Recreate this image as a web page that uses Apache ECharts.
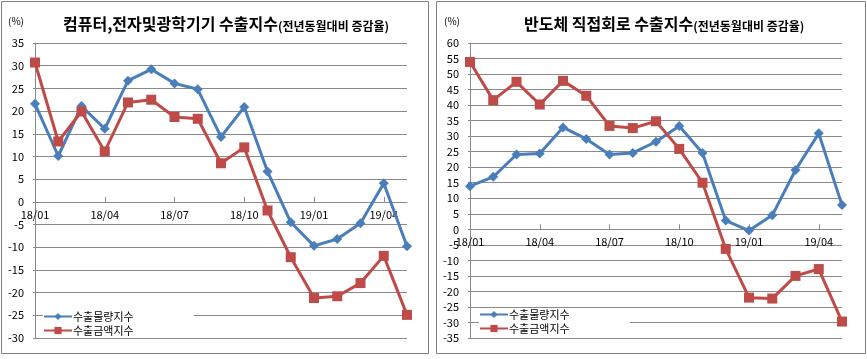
<!DOCTYPE html>
<html>
<head>
<meta charset="utf-8">
<script src="https://cdn.jsdelivr.net/npm/echarts@6/dist/echarts.min.js"></script>
<style>html,body{margin:0;padding:0;background:#fff;}#c{width:867px;height:359px;}</style>
</head>
<body>
<div id="c"></div>
<script>
const months = ['18/01','18/02','18/03','18/04','18/05','18/06','18/07','18/08','18/09','18/10','18/11','18/12','19/01','19/02','19/03','19/04','19/05'];
const seriesNames = ['수출물량지수','수출금액지수'];
const compVolume = [21.6,10.1,21.1,16.1,26.7,29.2,26.1,24.8,14.3,20.9,6.7,-4.5,-9.7,-8.2,-4.7,4.1,-9.8];
const compValue  = [30.7,13.3,19.9,11.1,21.9,22.5,18.7,18.3,8.5,12.0,-1.9,-12.2,-21.2,-20.8,-17.9,-11.9,-24.9];
const semiVolume = [13.9,16.9,24.1,24.4,32.8,29.1,24.1,24.6,28.2,33.3,24.6,2.8,-0.4,4.5,19.1,30.9,7.8];
const semiValue  = [53.9,41.6,47.5,40.2,47.8,43.0,33.3,32.6,34.8,25.9,15.0,-6.3,-22.0,-22.3,-15.0,-12.8,-29.7];
const compRange = [-30, 35];
const semiRange = [-35, 60];
const titleMain = ['컴퓨터,전자및광학기기 수출지수','반도체 직접회로 수출지수'];
const titleSub = '(전년동월대비 증감율)';
const unitLabel = '(%)';

const FONT = '"Noto Sans CJK KR", "Noto Sans", sans-serif';
const BLUE = '#4A7EBB', RED = '#BE4B48', GRID = '#8a8a8a';
const PLOT_H = 295;

function xAxis(gi, range){
  // place the category axis where the value axis crosses zero
  const off = -((0 - range[0]) / (range[1] - range[0])) * PLOT_H;
  return {
    type:'category', gridIndex:gi, data:months, boundaryGap:false,
    position:'bottom', offset:off,
    axisLine:{onZero:false, lineStyle:{color:GRID, width:1}},
    axisTick:{show:true, inside:true, interval:2, length:5, lineStyle:{color:GRID}},
    axisLabel:{interval:2, color:'#000', fontSize:11, fontFamily:FONT, margin:7},
    splitLine:{show:false}
  };
}
function yAxis(gi, range){
  return {
    type:'value', gridIndex:gi, min:range[0], max:range[1], interval:5,
    axisLine:{show:true, onZero:false, lineStyle:{color:GRID}},
    axisTick:{show:true, length:2, lineStyle:{color:GRID}},
    axisLabel:{color:'#000', fontSize:11, fontFamily:FONT, margin:11},
    splitLine:{lineStyle:{color:GRID, width:1}}
  };
}
function lineSeries(name, data, gi, color, symbol, size){
  return {
    name:name, type:'line', xAxisIndex:gi, yAxisIndex:gi, data:data,
    symbol:symbol, symbolSize:size, showSymbol:true,
    lineStyle:{color:color, width:3}, itemStyle:{color:color},
    emphasis:{disabled:true}
  };
}
function titleObj(left, main){
  return {
    left:left, top:11, padding:0,
    text:'{a|'+main+'}{b|'+titleSub+'}',
    textStyle:{rich:{
      a:{fontSize:16, fontWeight:'bold', color:'#000', fontFamily:FONT, verticalAlign:'bottom', lineHeight:21},
      b:{fontSize:12, color:'#000', fontFamily:FONT, verticalAlign:'bottom', lineHeight:19}
    }}
  };
}
function legendObj(left, top){
  return {
    left:left, top:top, orient:'vertical', itemWidth:28, itemHeight:9, itemGap:3,
    padding:[1,60,1,0], backgroundColor:'#fff',
    data:seriesNames,
    textStyle:{color:'#000', fontSize:11, fontFamily:FONT, padding:[0,0,0,-4]}
  };
}

const chart = echarts.init(document.getElementById('c'), null, {renderer:'canvas'});
chart.setOption({
  animation:false,
  backgroundColor:'#fff',
  title:[
    titleObj(63, titleMain[0]),
    titleObj(524, titleMain[1]),
    {left:8, top:16, padding:0, text:unitLabel, textStyle:{fontSize:10, fontWeight:'normal', color:'#000', fontFamily:FONT}},
    {left:444, top:16, padding:0, text:unitLabel, textStyle:{fontSize:10, fontWeight:'normal', color:'#000', fontFamily:FONT}}
  ],
  legend:[legendObj(43, 310), legendObj(479, 308)],
  grid:[
    {left:35, top:43, width:372, height:PLOT_H, containLabel:false},
    {left:470, top:43, width:372, height:PLOT_H, containLabel:false}
  ],
  xAxis:[xAxis(0, compRange), xAxis(1, semiRange)],
  yAxis:[yAxis(0, compRange), yAxis(1, semiRange)],
  series:[
    lineSeries(seriesNames[0], compVolume, 0, BLUE, 'diamond', 10),
    lineSeries(seriesNames[1], compValue, 0, RED, 'rect', 10),
    lineSeries(seriesNames[0], semiVolume, 1, BLUE, 'diamond', 10),
    lineSeries(seriesNames[1], semiValue, 1, RED, 'rect', 10)
  ],
  graphic:[
    {type:'rect', shape:{x:1.5, y:1.5, width:427, height:352}, style:{fill:null, stroke:'#7f7f7f', lineWidth:1}, silent:true, z:-1},
    {type:'rect', shape:{x:436.5, y:1.5, width:429, height:352}, style:{fill:null, stroke:'#7f7f7f', lineWidth:1}, silent:true, z:-1}
  ]
});
</script>
</body>
</html>
